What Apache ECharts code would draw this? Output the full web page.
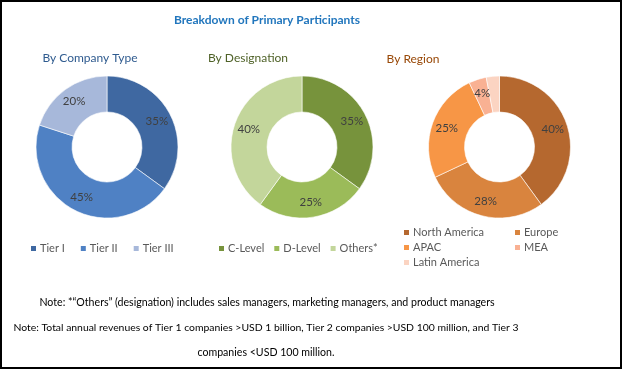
<!DOCTYPE html>
<html>
<head>
<meta charset="utf-8">
<script src="https://cdn.jsdelivr.net/npm/echarts@6/dist/echarts.min.js"></script>
<style>
html,body{margin:0;padding:0;background:#fff;}
#chart{width:622px;height:369px;}
</style>
</head>
<body>
<div id="chart"></div>
<script>
const companyTypes = ['Tier I', 'Tier II', 'Tier III'];
const companyShares = [35, 45, 20];
const designations = ['C-Level', 'D-Level', 'Others*'];
const designationShares = [35, 25, 40];
const regions = ['North America', 'Europe', 'APAC', 'MEA', 'Latin America'];
const regionShares = [40, 28, 25, 4, 3];

const companyColors = ['#3f68a1', '#4f81c4', '#a7b8da'];
const designationColors = ['#77933c', '#9bbb59', '#c3d69b'];
const regionColors = ['#b5682f', '#d9843e', '#f79646', '#f9b193', '#fbd4c2'];

const FONT = 'Lato, "Liberation Sans", sans-serif';

function toData(names, values, colors) {
  return names.map((n, i) => ({ name: n, value: values[i], itemStyle: { color: colors[i] } }));
}

function pieSeries(name, center, data) {
  return {
    name: name,
    type: 'pie',
    center: center,
    radius: [35, 71],
    startAngle: 90,
    clockwise: true,
    avoidLabelOverlap: false,
    silent: true,
    itemStyle: { borderColor: '#ffffff', borderWidth: 0.6 },
    label: {
      show: true,
      position: 'inside',
      formatter: '{c}%',
      color: '#404040',
      fontFamily: FONT,
      fontSize: 11.5
    },
    labelLine: { show: false },
    emphasis: { disabled: true },
    data: data
  };
}

const legendText = { color: '#595959', fontFamily: FONT, fontSize: 11, padding: [0, 0, 0, -2] };

const option = {
  animation: false,
  backgroundColor: '#ffffff',
  title: [
    { text: 'Breakdown of Primary Participants', left: 267, top: 14, padding: 0, textAlign: 'center',
      textStyle: { color: '#2176bd', fontFamily: FONT, fontSize: 12, fontWeight: 'bold' } },
    { text: 'By Company Type', left: 90, top: 52, padding: 0, textAlign: 'center',
      textStyle: { color: '#2f5b8f', fontFamily: FONT, fontSize: 12, fontWeight: 'normal' } },
    { text: 'By Designation', left: 248, top: 52, padding: 0, textAlign: 'center',
      textStyle: { color: '#4f6228', fontFamily: FONT, fontSize: 12, fontWeight: 'normal' } },
    { text: 'By Region', left: 413, top: 53, padding: 0, textAlign: 'center',
      textStyle: { color: '#984807', fontFamily: FONT, fontSize: 12, fontWeight: 'normal' } }
  ],
  legend: [
    { data: companyTypes, left: 29, top: 243, padding: 0, icon: 'rect', itemWidth: 7, itemHeight: 7, itemGap: 14,
      selectedMode: false, textStyle: legendText },
    { data: designations, left: 217, top: 243, padding: 0, icon: 'rect', itemWidth: 7, itemHeight: 7, itemGap: 8,
      selectedMode: false, textStyle: legendText },
    { data: ['North America', 'APAC', 'Latin America'], orient: 'vertical', left: 402, top: 227, padding: 0,
      icon: 'rect', itemWidth: 7, itemHeight: 7, itemGap: 4, selectedMode: false, textStyle: legendText },
    { data: ['Europe', 'MEA'], orient: 'vertical', left: 513, top: 227, padding: 0,
      icon: 'rect', itemWidth: 7, itemHeight: 7, itemGap: 4, selectedMode: false, textStyle: legendText }
  ],
  series: [
    pieSeries('By Company Type', [107, 147], toData(companyTypes, companyShares, companyColors)),
    pieSeries('By Designation', [302, 147], toData(designations, designationShares, designationColors)),
    pieSeries('By Region', [499.5, 147], toData(regions, regionShares, regionColors))
  ],
  graphic: [
    { type: 'rect', shape: { x: 1, y: 1, width: 620, height: 367 }, silent: true,
      style: { fill: 'none', stroke: '#000000', lineWidth: 2 } },
    { type: 'text', x: 267, y: 303, silent: true,
      style: { text: 'Note: *\u201COthers\u201D (designation) includes sales managers, marketing managers, and product managers',
        fill: '#000000', font: '10.6px ' + FONT, align: 'center', verticalAlign: 'middle' } },
    { type: 'text', x: 266, y: 328, silent: true,
      style: { text: 'Note: Total annual revenues of Tier 1 companies >USD 1 billion, Tier 2 companies >USD 100 million, and Tier 3',
        fill: '#000000', font: '10.4px ' + FONT, align: 'center', verticalAlign: 'middle' } },
    { type: 'text', x: 266, y: 353, silent: true,
      style: { text: 'companies <USD 100 million.',
        fill: '#000000', font: '10.6px ' + FONT, align: 'center', verticalAlign: 'middle' } }
  ]
};

const chart = echarts.init(document.getElementById('chart'), null, { renderer: 'canvas' });
chart.setOption(option);
</script>
</body>
</html>
